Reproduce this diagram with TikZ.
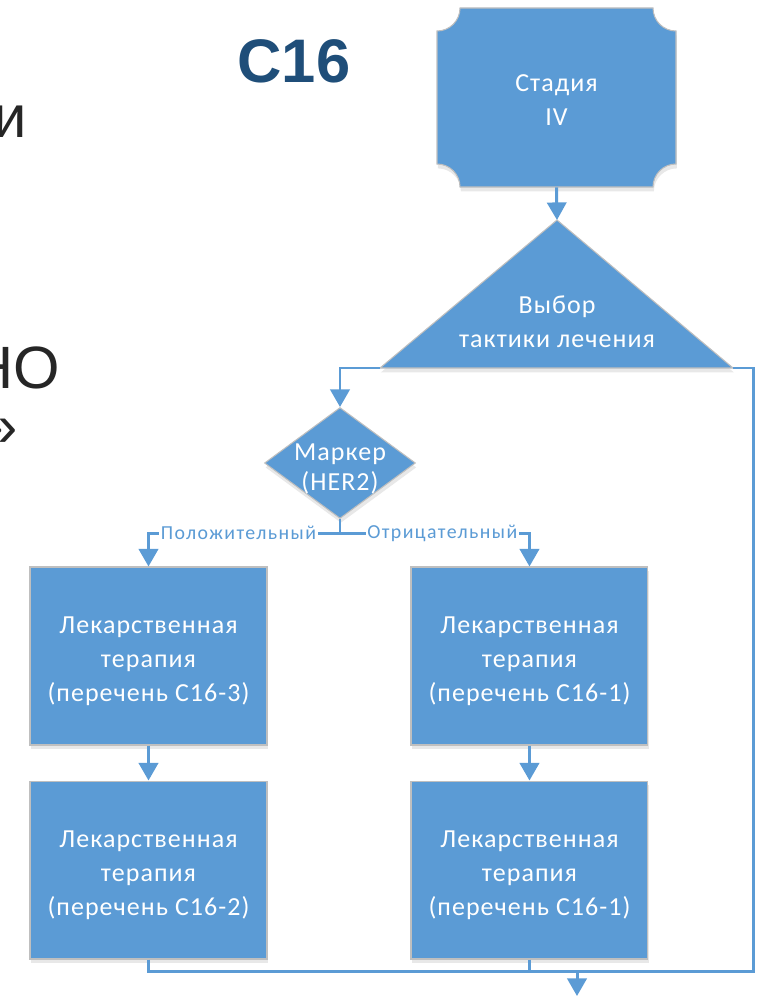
\documentclass[tikz,border=0pt]{standalone}
\usepackage{fontspec}
\setmainfont{Carlito}
\newfontfamily\pptfont[LetterSpace=4]{Carlito}
\newfontfamily\labelfont[LetterSpace=7]{Carlito}
\newfontfamily\slidefont{Liberation Sans}
\usetikzlibrary{positioning, arrows.meta, shapes.geometric, shadows}

\definecolor{flowblue}{HTML}{5B9BD5}
\definecolor{titleblue}{HTML}{1F4E79}
\definecolor{edgegray}{HTML}{BFBFBF}
\definecolor{slidetext}{HTML}{262626}

\begin{document}
\begin{tikzpicture}[x=0.02cm, y=0.02cm,
    % Styles
    soft-shadow/.style={drop shadow={shadow xshift=0.5pt, shadow yshift=-2.5pt, opacity=0.18, fill=black!50}},
    text-drop/.style={execute at begin node={\rule{0pt}{#1}}},
    drug/.style={draw=edgegray, line width=0.6pt, fill=flowblue, soft-shadow, text=white, minimum width=4.74cm, minimum height=3.56cm, inner sep=0pt, align=center, font=\pptfont\fontsize{14.8}{19.3}\selectfont, text-drop=53.8pt},
    shape-fill/.style={draw=edgegray, line width=0.6pt, fill=flowblue, soft-shadow},
    shape-text/.style={text=white, inner sep=0pt, align=center, font=\pptfont\fontsize{14.8}{19.3}\selectfont},
    decision/.style={diamond, draw=edgegray, line width=0.6pt, fill=flowblue, soft-shadow, minimum width=3.02cm, minimum height=2.22cm, inner sep=0pt},
    flow-line/.style={draw=flowblue, line width=1.7pt},
    flow-arrow/.style={flow-line, -{Triangle[width=11pt, length=10pt]}},
    branch-label/.style={fill=white, text=flowblue, inner sep=1pt, font=\labelfont\fontsize{11.3}{13}\selectfont},
    slide-text/.style={text=slidetext, inner sep=0pt, font=\slidefont\fontsize{34}{40}\selectfont},
]
\useasboundingbox (0,0) rectangle (761,-997);

% Slide remnants on the left
\node[slide-text, anchor=base east] (frag-i) at (27,-137) {и};
\node[slide-text, anchor=base east] (frag-no) at (60,-388) {НО};
\node[slide-text, anchor=base east] (frag-quote) at (18,-446) {»};

% Title
\node[font=\slidefont\bfseries\fontsize{35}{40}\selectfont, text=titleblue, anchor=base, inner sep=0pt] (title) at (294,-83) {C16};

% Stage IV (concave corners)
\filldraw[shape-fill] (460,-8) -- (653,-8) arc[start angle=180, end angle=270, radius=23]
    -- (676,-164) arc[start angle=90, end angle=180, radius=23]
    -- (460,-187) arc[start angle=0, end angle=90, radius=23]
    -- (437,-31) arc[start angle=270, end angle=360, radius=23] -- cycle;
\node[shape-text, text-drop=32.2pt, minimum width=4.78cm, minimum height=3.58cm] (stage) at (556.5,-97.5) {Стадия\\IV};

% Choice of treatment tactics
\coordinate (tactic-apex) at (557,-220);
\coordinate (tactic-left) at (380,-368);
\coordinate (tactic-right) at (733,-368);
\filldraw[shape-fill] (tactic-apex) -- (tactic-right) -- (tactic-left) -- cycle;
\node[shape-text] (tactic) at (557,-322) {Выбор\\тактики лечения};
\draw[flow-arrow] (stage.south) -- (tactic-apex);

% Marker
\node[decision] (marker) at (340,-463) {};
\node[shape-text, font=\pptfont\fontsize{14.8}{17}\selectfont] (marker-text) at (340,-469) {Маркер\\(HER2)};
\draw[flow-arrow] (tactic-left) -| (marker.north);

% Drug therapy boxes
\node[drug] (drug-c163) at (148.5,-656) {Лекарственная\\терапия\\(перечень C16-3)};
\node[drug, below=0.7cm of drug-c163] (drug-c162) {Лекарственная\\терапия\\(перечень C16-2)};
\node[drug, right=2.86cm of drug-c163] (drug-c161a) {Лекарственная\\терапия\\(перечень C16-1)};
\node[drug, below=0.7cm of drug-c161a] (drug-c161b) {Лекарственная\\терапия\\(перечень C16-1)};

% Branches
\draw[flow-arrow] (marker.south) -- ++(0,-14) -| node[branch-label, pos=0.265] {Положительный} (drug-c163.north);
\draw[flow-arrow] (marker.south) -- ++(0,-14) -| node[branch-label, pos=0.27] {Отрицательный} (drug-c161a.north);
\draw[flow-arrow] (drug-c163) -- (drug-c162);
\draw[flow-arrow] (drug-c161a) -- (drug-c161b);

% Merge to exit
\coordinate (bypass) at (753,-368);
\coordinate (merge) at (577,-971);
\coordinate (exit) at (577,-996);
\draw[flow-line] (tactic-right) -- (bypass) |- (merge);
\draw[flow-line] (drug-c162.south) |- (merge);
\draw[flow-line] (drug-c161b.south) |- (merge);
\draw[flow-arrow] (merge) -- (exit);

\end{tikzpicture}
\end{document}
